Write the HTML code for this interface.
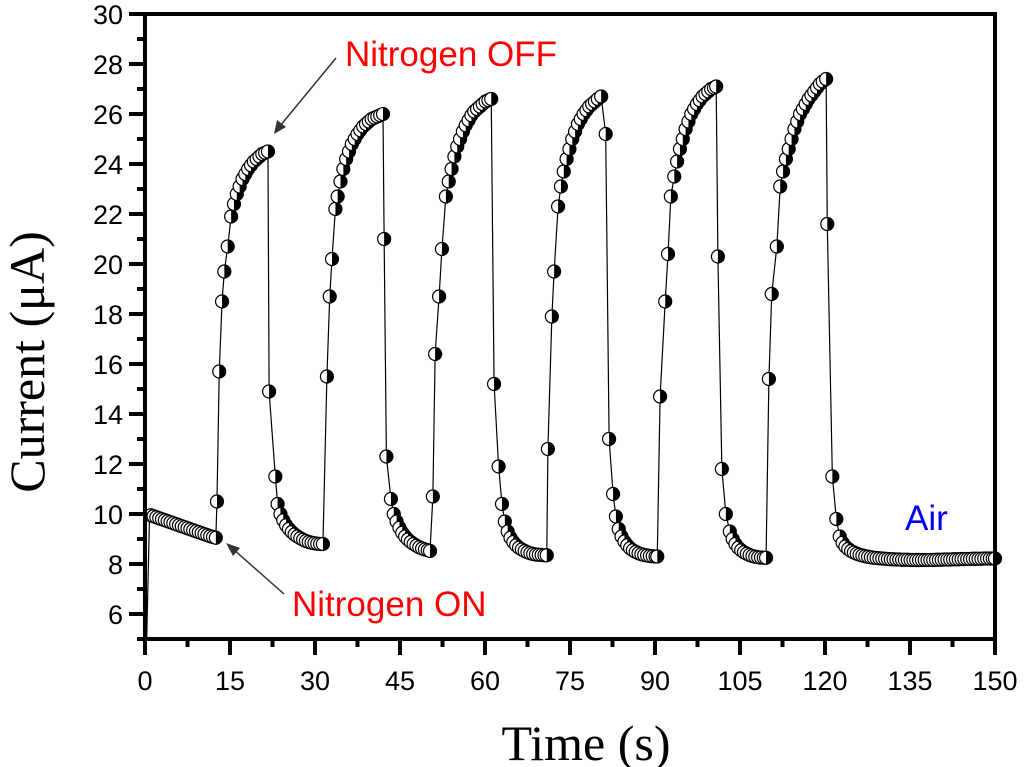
<!DOCTYPE html>
<html><head><meta charset="utf-8"><style>
body{margin:0;background:#fff;}
svg{display:block;}
</style></head><body>
<svg id="chart" width="1024" height="767" xmlns="http://www.w3.org/2000/svg" font-family="Liberation Sans, sans-serif">
<g id="marks"></g>
<rect x="145" y="14" width="850" height="625" fill="none" stroke="#000" stroke-width="4"/>
<g id="axes"></g>
<text x="0" y="0" transform="translate(44,362) rotate(-90)" text-anchor="middle" font-family="Liberation Serif, serif" font-size="50">Current (μA)</text>
<text x="586" y="760" text-anchor="middle" font-family="Liberation Serif, serif" font-size="50">Time (s)</text>
<text x="345" y="66" fill="#f00" font-size="35">Nitrogen OFF</text>
<line x1="336" y1="58" x2="280" y2="126" stroke="#333" stroke-width="1.5"/>
<polygon points="274,134 277,120 286,127" fill="#333"/>
<text x="292" y="616" fill="#f00" font-size="35">Nitrogen ON</text>
<line x1="284" y1="594" x2="233" y2="549" stroke="#333" stroke-width="1.5"/>
<polygon points="226,543 240,548 233,556" fill="#333"/>
<text x="905" y="530" fill="#00f" font-size="35">Air</text>
</svg>
<script>
const xTicks=[0,15,30,45,60,75,90,105,120,135,150];
const yTicks=[6,8,10,12,14,16,18,20,22,24,26,28,30];
const startLine=[[0.3,5],[0.8,9.95]];
const cycle1=[[1,9.95],[1.5,9.91],[2,9.87],[2.5,9.83],[3,9.79],[3.5,9.75],[4,9.71],[4.5,9.67],[5,9.63],[5.5,9.59],[6,9.55],[6.5,9.51],[7,9.47],[7.5,9.43],[8,9.39],[8.5,9.35],[9,9.31],[9.5,9.27],[10,9.23],[10.5,9.19],[11,9.15],[11.5,9.11],[12,9.08],[12.5,9.05],
[12.7,10.5],[13.1,15.7],[13.6,18.5],[14,19.7],[14.6,20.7],[15.2,21.9],[15.7,22.4],[16.2,22.8],[16.7,23.1],[17.2,23.4],[17.7,23.6],[18.2,23.8],[18.7,23.95],[19.2,24.1],[19.7,24.2],[20.2,24.3],[20.7,24.4],[21.2,24.45],[21.7,24.5],
[21.9,14.9],[23,11.5],[23.4,10.4],[23.9,10],[24.4,9.75],[24.9,9.55],[25.4,9.4],[25.9,9.28],[26.4,9.18],[26.9,9.1],[27.4,9.03],[27.9,8.97],[28.4,8.92],[28.9,8.88],[29.4,8.85],[29.9,8.83],[30.4,8.81],[30.9,8.8],[31.4,8.8]];
const cycle2=[[32.1,15.5],[32.6,18.7],[33,20.2],[33.6,22.2],[34,22.7],[34.5,23.3],[35,23.8],[35.5,24.2],[36,24.5],[36.5,24.8],[37,25],[37.5,25.2],[38,25.35],[38.5,25.5],[39,25.6],[39.5,25.7],[40,25.8],[40.5,25.85],[41,25.9],[41.5,25.95],[42,26],
[42.2,21],[42.6,12.3],[43.4,10.6],[43.9,10],[44.4,9.7],[44.9,9.45],[45.4,9.25],[45.9,9.1],[46.4,8.98],[46.9,8.88],[47.4,8.8],[47.9,8.73],[48.4,8.67],[48.9,8.62],[49.4,8.58],[49.9,8.55],[50.3,8.52]];
const cycle3=[[50.8,10.7],[51.2,16.4],[51.9,18.7],[52.4,20.6],[53.1,22.7],[53.6,23.3],[54.1,23.8],[54.6,24.3],[55.1,24.7],[55.6,25],[56.1,25.3],[56.6,25.55],[57.1,25.75],[57.6,25.95],[58.1,26.1],[58.6,26.2],[59.1,26.3],[59.6,26.4],[60.1,26.5],[60.6,26.55],[61.1,26.6],
[61.6,15.2],[62.4,11.9],[63,10.4],[63.5,9.7],[64,9.3],[64.5,9.05],[65,8.88],[65.5,8.75],[66,8.65],[66.5,8.58],[67,8.52],[67.5,8.47],[68,8.43],[68.5,8.4],[69,8.38],[69.5,8.37],[70,8.36],[70.5,8.35],[70.9,8.35]];
const cycle4=[[71.1,12.6],[71.8,17.9],[72.2,19.7],[72.9,22.3],[73.4,23.1],[73.9,23.7],[74.4,24.2],[74.9,24.6],[75.4,25],[75.9,25.3],[76.4,25.6],[76.9,25.8],[77.4,26],[77.9,26.15],[78.4,26.3],[78.9,26.4],[79.4,26.5],[79.9,26.6],[80.5,26.7],
[81.3,25.2],[81.9,13],[82.6,10.8],[83.1,9.9],[83.6,9.4],[84.1,9.1],[84.6,8.9],[85.1,8.75],[85.6,8.63],[86.1,8.55],[86.6,8.48],[87.1,8.43],[87.6,8.39],[88.1,8.36],[88.6,8.34],[89.1,8.32],[89.6,8.31],[90.1,8.3],[90.4,8.3]];
const cycle5=[[90.9,14.7],[91.8,18.5],[92.3,20.4],[92.8,22.7],[93.4,23.5],[93.9,24.1],[94.4,24.6],[94.9,25],[95.4,25.4],[95.9,25.7],[96.4,26],[96.9,26.2],[97.4,26.4],[97.9,26.55],[98.4,26.7],[98.9,26.8],[99.4,26.9],[99.9,27],[100.4,27.05],[100.8,27.1],
[101.1,20.3],[101.8,11.8],[102.5,10],[103.2,9.3],[103.7,9],[104.2,8.8],[104.7,8.65],[105.2,8.55],[105.7,8.47],[106.2,8.41],[106.7,8.36],[107.2,8.32],[107.7,8.29],[108.2,8.27],[108.7,8.26],[109.2,8.25],[109.6,8.25]];
const cycle6=[[110.1,15.4],[110.6,18.8],[111.5,20.7],[112.1,23.1],[112.6,23.7],[113.1,24.2],[113.6,24.6],[114.1,25],[114.6,25.4],[115.1,25.7],[115.6,26],[116.1,26.2],[116.6,26.4],[117.1,26.6],[117.6,26.75],[118.1,26.9],[118.6,27.05],[119.1,27.2],[119.6,27.3],[120.2,27.4],
[120.4,21.6],[121.3,11.5],[122,9.8],[122.6,9.1],[123.1,8.85],[123.6,8.7],[124.1,8.6],[124.6,8.52],[125.1,8.46],[125.6,8.41],[126.1,8.37]];
const tail=[[126.6,8.34],[127.1,8.31],[127.6,8.29],[128.1,8.27],[128.6,8.25],[129.1,8.24],[129.6,8.23],[130.1,8.22],[130.6,8.21],[131.1,8.2],[131.6,8.19],[132.1,8.19],[132.6,8.18],[133.1,8.18],[133.6,8.17],[134.1,8.17],[134.6,8.17],[135.1,8.16],[135.6,8.16],[136.1,8.16],[136.6,8.16],[137.1,8.16],[137.6,8.16],[138.1,8.16],[138.6,8.16],[139.1,8.16],[139.6,8.17],[140.1,8.17],[140.6,8.17],[141.1,8.18],[141.6,8.18],[142.1,8.18],[142.6,8.19],[143.1,8.19],[143.6,8.19],[144.1,8.2],[144.6,8.2],[145.1,8.2],[145.6,8.2],[146.1,8.21],[146.6,8.21],[147.1,8.21],[147.6,8.21],[148.1,8.22],[148.6,8.22],[149.1,8.22],[149.6,8.22],[150,8.22]];

const NS="http://www.w3.org/2000/svg";
const X=t=>145+t*850/150;
const Y=v=>14+(30-v)*25;
const axes=document.getElementById('axes');
const marks=document.getElementById('marks');
function mk(tag,attrs,parent){const e=document.createElementNS(NS,tag);for(const k in attrs)e.setAttribute(k,attrs[k]);parent.appendChild(e);return e;}

xTicks.forEach((t,i)=>{
  const l=mk('line',{x1:X(t),x2:X(t),y1:639,y2:655,stroke:'#000','stroke-width':4},axes);
  
  
  if(i<xTicks.length-1){
    const m=mk('line',{x1:X(t+7.5),x2:X(t+7.5),y1:639,y2:647,stroke:'#000','stroke-width':4},axes);
    
    
  }
  const tx=mk('text',{x:X(t),y:690,'text-anchor':'middle','font-size':27},axes);
  tx.textContent=t;
  
  
});
yTicks.forEach(v=>{
  const l=mk('line',{x1:129,x2:145,y1:Y(v),y2:Y(v),stroke:'#000','stroke-width':4},axes);
  
  
  const m=mk('line',{x1:137,x2:145,y1:Y(v-1),y2:Y(v-1),stroke:'#000','stroke-width':4},axes);
  
  
  const tx=mk('text',{x:123,y:Y(v)+10,'text-anchor':'end','font-size':27},axes);
  tx.textContent=v;
  
  
});

const all=startLine.concat(cycle1,cycle2,cycle3,cycle4,cycle5,cycle6,tail);
const pl=mk('polyline',{points:all.map(p=>X(p[0])+','+Y(p[1])).join(' '),fill:'none',stroke:'#000','stroke-width':1.2},marks);


const pts=cycle1.concat(cycle2,cycle3,cycle4,cycle5,cycle6,tail);
const r=6.5;
pts.forEach(p=>{
  const cx=X(p[0]),cy=Y(p[1]);
  const g=mk('g',{},marks);
  
  
  mk('circle',{cx:cx,cy:cy,r:r,fill:'#fff',stroke:'#000','stroke-width':1.2},g);
  mk('path',{d:`M${cx},${cy-r} A${r},${r} 0 0 1 ${cx},${cy+r} Z`,fill:'#000'},g);
});
</script>
</body></html>
